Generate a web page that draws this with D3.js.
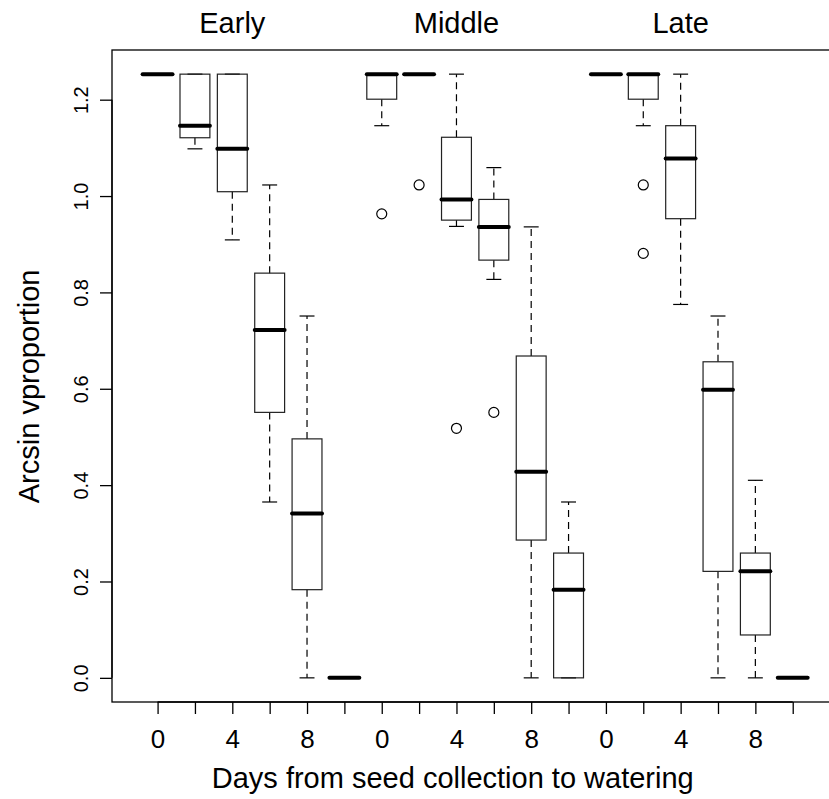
<!DOCTYPE html>
<html>
<head>
<meta charset="utf-8">
<script src="https://cdn.jsdelivr.net/npm/d3@7"></script>
<style>
  html, body { margin: 0; padding: 0; background: #fff; overflow: hidden; }
  svg { display: block; }
  text { font-family: "Liberation Sans", Arial, Helvetica, sans-serif; fill: #000; }
</style>
</head>
<body>
<svg id="chart" width="829" height="799"></svg>
<script>
// ---- data ----
const groups = ["Early", "Middle", "Late"];
const groupLabelPos = [3, 9, 15];
const days = [0, 2, 4, 6, 8, 10];
const dayLabels = ["0", "", "4", "", "8", ""];
// five-number summaries per box: [lowerWhisker, Q1, median, Q3, upperWhisker]
const earlyStats = [
  [1.253, 1.253, 1.253, 1.253, 1.253],
  [1.098, 1.121, 1.146, 1.253, 1.253],
  [0.909, 1.009, 1.098, 1.253, 1.253],
  [0.365, 0.551, 0.722, 0.840, 1.023],
  [0.000, 0.183, 0.341, 0.496, 0.751],
  [0.000, 0.000, 0.000, 0.000, 0.000]
];
const middleStats = [
  [1.146, 1.201, 1.253, 1.253, 1.253],
  [1.253, 1.253, 1.253, 1.253, 1.253],
  [0.937, 0.950, 0.993, 1.122, 1.253],
  [0.827, 0.867, 0.936, 0.993, 1.059],
  [0.000, 0.286, 0.428, 0.668, 0.936],
  [0.000, 0.000, 0.183, 0.259, 0.365]
];
const lateStats = [
  [1.253, 1.253, 1.253, 1.253, 1.253],
  [1.146, 1.201, 1.253, 1.253, 1.253],
  [0.775, 0.953, 1.078, 1.146, 1.253],
  [0.000, 0.221, 0.598, 0.656, 0.751],
  [0.000, 0.089, 0.221, 0.259, 0.410],
  [0.000, 0.000, 0.000, 0.000, 0.000]
];
// outliers: [boxIndex (1-based), value]
const outliers = [
  [7, 0.963], [8, 1.023], [9, 0.518], [10, 0.551],
  [14, 1.023], [14, 0.881]
];
const yTicks = [0.0, 0.2, 0.4, 0.6, 0.8, 1.0, 1.2];
const xTitle = "Days from seed collection to watering";
const yTitle = "Arcsin vproportion";
const xTitlePos = 8.9;   // box index under which the x title is centred
const yTitlePos = 0.605; // y value at which the y title is centred

// ---- layout ----
const svg = d3.select("#chart");
const plot = { left: 112, top: 50, bottom: 702, right: 838.3 };
const n = groups.length * days.length;
const yMax = 1.253;
const x = d3.scaleLinear().domain([0.5 - 0.04 * n, n + 0.5 + 0.04 * n]).range([plot.left, plot.right]);
const y = d3.scaleLinear().domain([-0.04 * yMax, 1.04 * yMax]).range([plot.bottom, plot.top]);

const allStats = [].concat(earlyStats, middleStats, lateStats);
const boxes = allStats.map((s, i) => ({ idx: i + 1, lw: s[0], q1: s[1], med: s[2], q3: s[3], uw: s[4] }));
const unit = x(2) - x(1);
const halfW = 0.4 * unit;
const capHalf = 0.2 * unit;
const FONT = "Liberation Sans, Arial, Helvetica, sans-serif";

const g = svg.append("g");

boxes.forEach(b => {
  const cx = x(b.idx);
  if (b.uw > b.q3) {
    g.append("line").attr("x1", cx).attr("x2", cx).attr("y1", y(b.q3)).attr("y2", y(b.uw))
      .attr("stroke", "#000").attr("stroke-width", 1.2).attr("stroke-dasharray", "7,5");
  }
  if (b.lw < b.q1) {
    g.append("line").attr("x1", cx).attr("x2", cx).attr("y1", y(b.q1)).attr("y2", y(b.lw))
      .attr("stroke", "#000").attr("stroke-width", 1.2).attr("stroke-dasharray", "7,5");
  }
  [b.lw, b.uw].forEach(v => {
    g.append("line").attr("x1", cx - capHalf).attr("x2", cx + capHalf).attr("y1", y(v)).attr("y2", y(v))
      .attr("stroke", "#000").attr("stroke-width", 1.2);
  });
  if (b.q3 > b.q1) {
    g.append("rect").attr("x", cx - halfW).attr("y", y(b.q3)).attr("width", 2 * halfW)
      .attr("height", y(b.q1) - y(b.q3)).attr("fill", "none").attr("stroke", "#222").attr("stroke-width", 1.2);
  }
  g.append("line").attr("x1", cx - halfW).attr("x2", cx + halfW).attr("y1", y(b.med)).attr("y2", y(b.med))
    .attr("stroke", "#000").attr("stroke-width", 4).attr("stroke-linecap", "round");
});

g.selectAll("circle.out").data(outliers).enter().append("circle")
  .attr("cx", d => x(d[0])).attr("cy", d => y(d[1])).attr("r", 5)
  .attr("fill", "none").attr("stroke", "#000").attr("stroke-width", 1.2);

// frame
svg.append("rect").attr("x", plot.left).attr("y", plot.top)
  .attr("width", plot.right - plot.left).attr("height", plot.bottom - plot.top)
  .attr("fill", "none").attr("stroke", "#000").attr("stroke-width", 1.3);

// y axis
const yAxis = d3.axisLeft(y).tickValues(yTicks).tickFormat(d3.format(".1f")).tickSize(12).tickPadding(0);
const ya = svg.append("g").attr("transform", `translate(${plot.left},0)`).call(yAxis);
ya.select(".domain").attr("stroke-width", 1.3).attr("d", `M0,${y(0)}V${y(1.2)}`);
ya.selectAll(".tick line").attr("stroke-width", 1.3);
ya.selectAll(".tick text").remove();
ya.selectAll(".tick").append("text")
  .attr("transform", "translate(-24,0) rotate(-90)")
  .attr("text-anchor", "middle")
  .style("font-size", "20px").style("font-family", FONT)
  .attr("fill", "#000")
  .text(d => d3.format(".1f")(d));

// x axis
const tickIdx = d3.range(1, n + 1);
const xAxis = d3.axisBottom(x).tickValues(tickIdx).tickSize(12).tickPadding(0)
  .tickFormat(d => dayLabels[(d - 1) % days.length]);
const xa = svg.append("g").attr("transform", `translate(0,${plot.bottom})`).call(xAxis);
xa.select(".domain").attr("stroke-width", 1.3).attr("d", `M${x(1)},0H${x(n)}`);
xa.selectAll(".tick line").attr("stroke-width", 1.3);
xa.selectAll(".tick text").attr("y", 0).attr("dy", "46")
  .style("font-size", "26px").style("font-family", FONT).attr("fill", "#000");

// titles
svg.append("text").attr("x", x(xTitlePos)).attr("y", 788)
  .attr("text-anchor", "middle").style("font-size", "29px").style("font-family", FONT).text(xTitle);
svg.append("text").attr("transform", `translate(39,${y(yTitlePos)}) rotate(-90)`)
  .attr("text-anchor", "middle").style("font-size", "29px").style("font-family", FONT).text(yTitle);

// group labels
svg.selectAll("text.grp").data(groups).enter().append("text")
  .attr("class", "grp")
  .attr("x", (d, i) => x(groupLabelPos[i])).attr("y", 33)
  .attr("text-anchor", "middle").style("font-size", "29px").style("font-family", FONT).text(d => d);
</script>
</body>
</html>
